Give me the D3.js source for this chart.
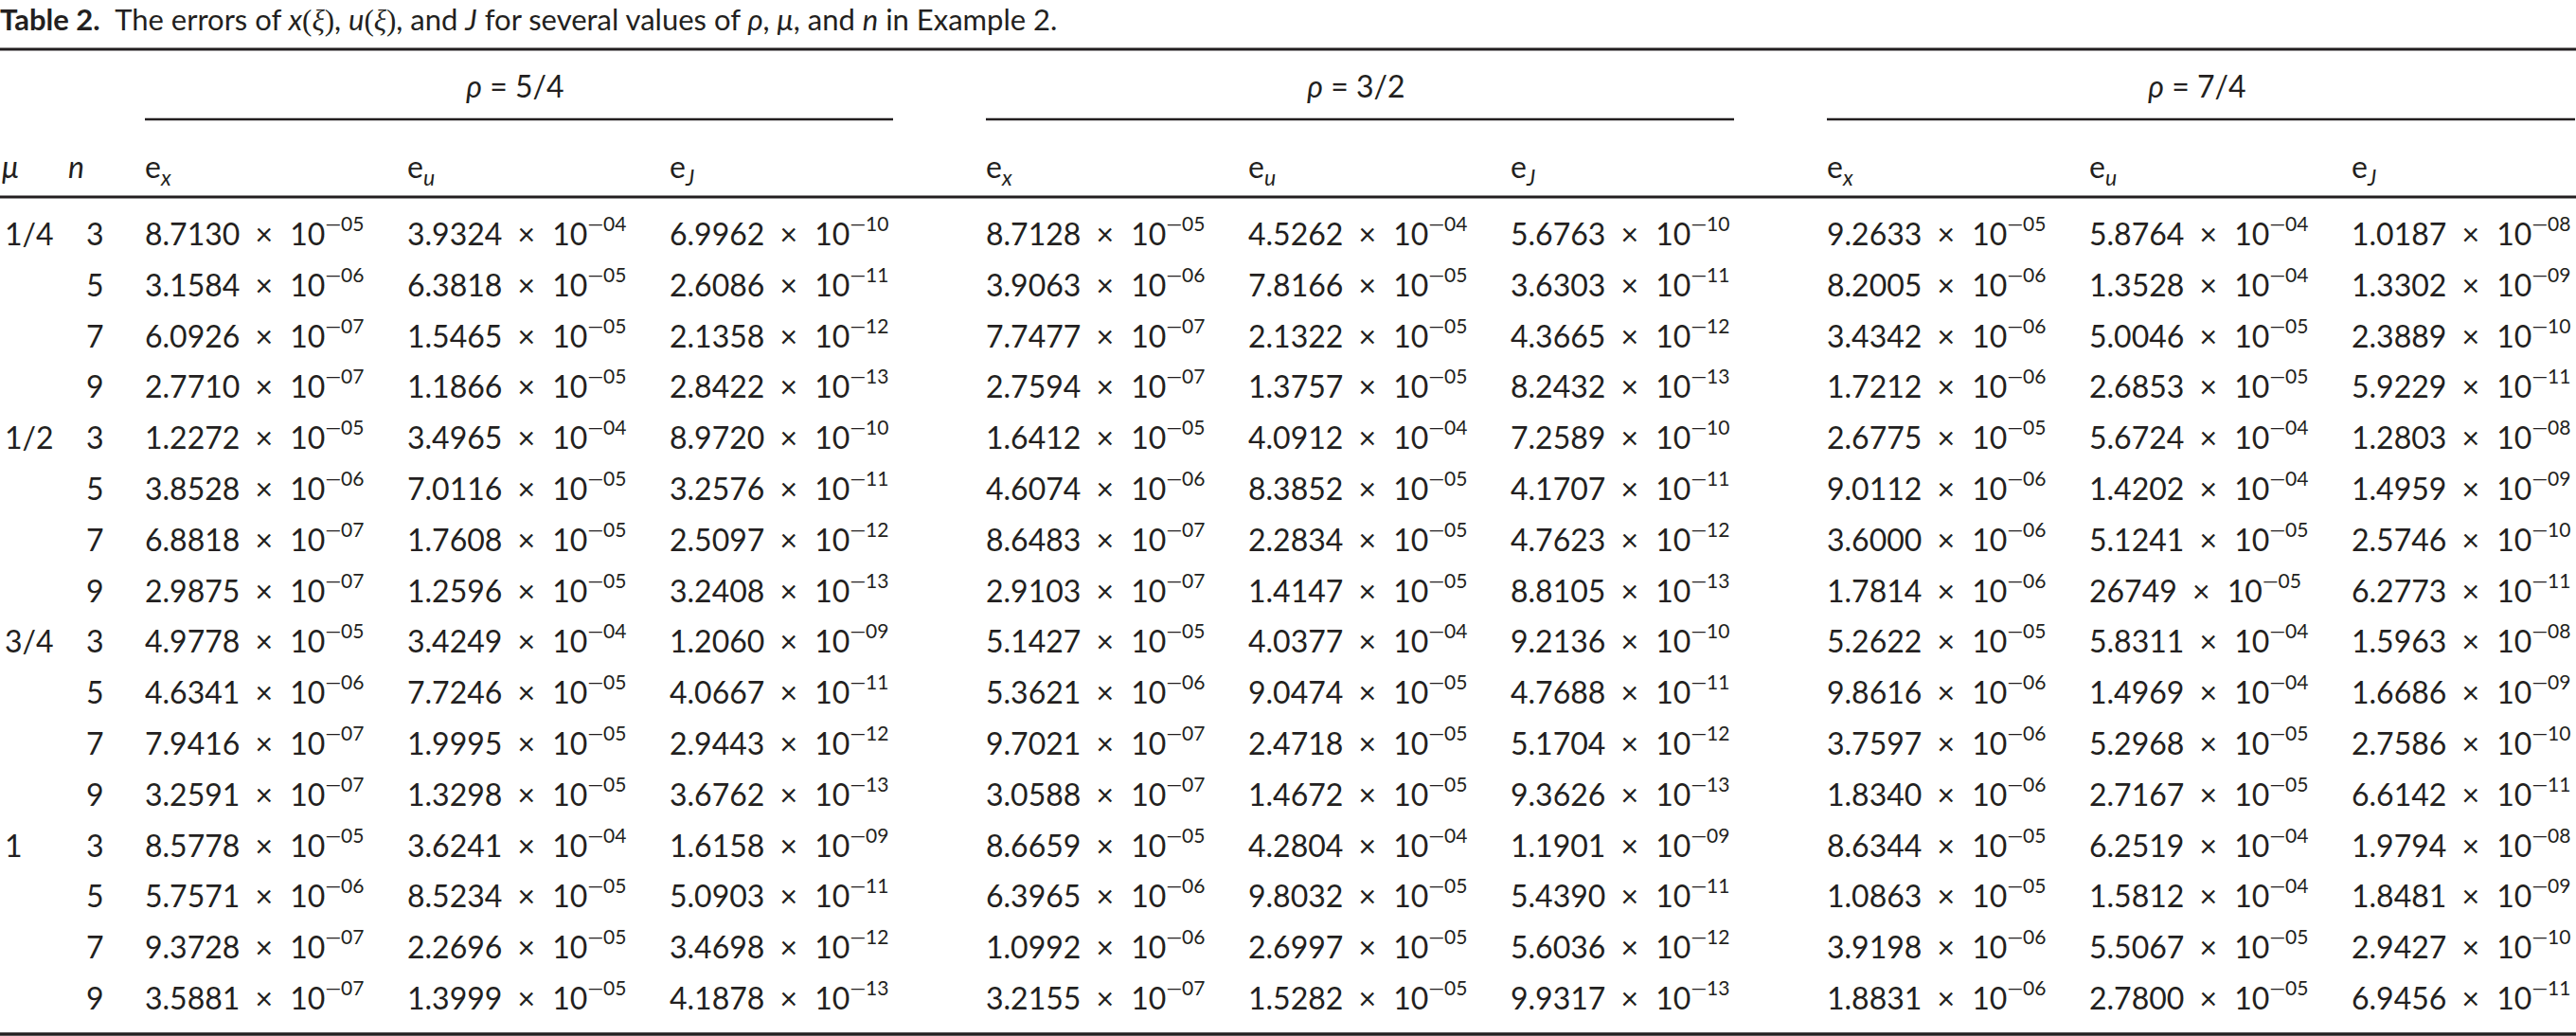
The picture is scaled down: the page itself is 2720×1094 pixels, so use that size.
<!DOCTYPE html>
<html>
<head>
<meta charset="utf-8">
<script src="https://cdn.jsdelivr.net/npm/d3@7"></script>
<style>
  html, body { margin: 0; padding: 0; background: #fff; }
  text { font-family: Lato, "Open Sans", sans-serif; fill: #231f20; }
</style>
</head>
<body>
<div id="table"></div>
<script>
// table contents
const rhoLabels = ['5/4', '3/2', '7/4'];
const muLabels = ['1/4', '1/2', '3/4', '1'];
const nValues = [3, 5, 7, 9];
const colNames = ['x', 'u', 'J'];

// errors for rho = 5/4 (16 rows: mu x n)
const rho1_ex = ['8.7130e-05', '3.1584e-06', '6.0926e-07', '2.7710e-07', '1.2272e-05', '3.8528e-06', '6.8818e-07', '2.9875e-07',
                 '4.9778e-05', '4.6341e-06', '7.9416e-07', '3.2591e-07', '8.5778e-05', '5.7571e-06', '9.3728e-07', '3.5881e-07'];
const rho1_eu = ['3.9324e-04', '6.3818e-05', '1.5465e-05', '1.1866e-05', '3.4965e-04', '7.0116e-05', '1.7608e-05', '1.2596e-05',
                 '3.4249e-04', '7.7246e-05', '1.9995e-05', '1.3298e-05', '3.6241e-04', '8.5234e-05', '2.2696e-05', '1.3999e-05'];
const rho1_eJ = ['6.9962e-10', '2.6086e-11', '2.1358e-12', '2.8422e-13', '8.9720e-10', '3.2576e-11', '2.5097e-12', '3.2408e-13',
                 '1.2060e-09', '4.0667e-11', '2.9443e-12', '3.6762e-13', '1.6158e-09', '5.0903e-11', '3.4698e-12', '4.1878e-13'];

// rho = 3/2
const rho2_ex = ['8.7128e-05', '3.9063e-06', '7.7477e-07', '2.7594e-07', '1.6412e-05', '4.6074e-06', '8.6483e-07', '2.9103e-07',
                 '5.1427e-05', '5.3621e-06', '9.7021e-07', '3.0588e-07', '8.6659e-05', '6.3965e-06', '1.0992e-06', '3.2155e-07'];
const rho2_eu = ['4.5262e-04', '7.8166e-05', '2.1322e-05', '1.3757e-05', '4.0912e-04', '8.3852e-05', '2.2834e-05', '1.4147e-05',
                 '4.0377e-04', '9.0474e-05', '2.4718e-05', '1.4672e-05', '4.2804e-04', '9.8032e-05', '2.6997e-05', '1.5282e-05'];
const rho2_eJ = ['5.6763e-10', '3.6303e-11', '4.3665e-12', '8.2432e-13', '7.2589e-10', '4.1707e-11', '4.7623e-12', '8.8105e-13',
                 '9.2136e-10', '4.7688e-11', '5.1704e-12', '9.3626e-13', '1.1901e-09', '5.4390e-11', '5.6036e-12', '9.9317e-13'];

// rho = 7/4 (the source prints "26749" without its decimal point)
const rho3_ex = ['9.2633e-05', '8.2005e-06', '3.4342e-06', '1.7212e-06', '2.6775e-05', '9.0112e-06', '3.6000e-06', '1.7814e-06',
                 '5.2622e-05', '9.8616e-06', '3.7597e-06', '1.8340e-06', '8.6344e-05', '1.0863e-05', '3.9198e-06', '1.8831e-06'];
const rho3_eu = ['5.8764e-04', '1.3528e-04', '5.0046e-05', '2.6853e-05', '5.6724e-04', '1.4202e-04', '5.1241e-05', '26749e-05',
                 '5.8311e-04', '1.4969e-04', '5.2968e-05', '2.7167e-05', '6.2519e-04', '1.5812e-04', '5.5067e-05', '2.7800e-05'];
const rho3_eJ = ['1.0187e-08', '1.3302e-09', '2.3889e-10', '5.9229e-11', '1.2803e-08', '1.4959e-09', '2.5746e-10', '6.2773e-11',
                 '1.5963e-08', '1.6686e-09', '2.7586e-10', '6.6142e-11', '1.9794e-08', '1.8481e-09', '2.9427e-10', '6.9456e-11'];

const groups = [
  [rho1_ex, rho1_eu, rho1_eJ],
  [rho2_ex, rho2_eu, rho2_eJ],
  [rho3_ex, rho3_eu, rho3_eJ]
];

const width = 2720;
const height = 1094;
const ink = '#231f20';
const fs = 32;

const svg = d3.select('#table')
  .append('svg')
  .attr('width', width)
  .attr('height', height);

// row index -> baseline
const rows = d3.range(muLabels.length * nValues.length);
const y = d3.scalePoint()
  .domain(rows)
  .range([259, 1066]);

// group and column positions
const xGroup = d3.scaleLinear().domain([0, 1]).range([153, 1041]);
const xCol = d3.scaleLinear().domain([0, 1]).range([0, 277]);
const groupRule = 790;

// title
const title = svg.append('text')
  .attr('x', 0)
  .attr('y', 32)
  .style('font-size', '31px');
const titleParts = [
  ['Table 2.', 'b'], ['\u2002The errors of ', ''], ['x', 'i'], ['(', 's'], ['ξ', 'si'], [')', 's'],
  [', ', ''], ['u', 'i'], ['(', 's'], ['ξ', 'si'], [')', 's'], [', and ', ''], ['J', 'i'],
  [' for several values of ', ''], ['ρ', 'i'], [', ', ''], ['μ', 'i'], [', and ', ''], ['n', 'i'],
  [' in Example 2.', '']
];
title.selectAll('tspan')
  .data(titleParts)
  .join('tspan')
  .text(d => d[0])
  .style('font-weight', d => d[1] === 'b' ? 'bold' : null)
  .style('font-style', d => d[1].includes('i') ? 'italic' : null)
  .style('font-family', d => d[1].includes('s') ? '"Liberation Serif", serif' : null);

// rules
const rule = (x1, x2, yy, w) => svg.append('line')
  .attr('x1', x1).attr('x2', x2)
  .attr('y1', yy).attr('y2', yy)
  .attr('stroke', ink)
  .attr('stroke-width', w);

rule(0, width, 52, 3);
rule(0, width, 208, 3);
rule(0, width, 1092, 3.5);
groups.forEach((g, gi) => {
  rule(xGroup(gi), Math.min(width, xGroup(gi) + groupRule), 126, 2.5);
});

// rho headers
svg.append('g')
  .selectAll('text')
  .data(rhoLabels)
  .join('text')
  .attr('x', (d, i) => xGroup(i) + groupRule / 2 - 4)
  .attr('y', 103)
  .attr('text-anchor', 'middle')
  .style('font-size', fs + 'px')
  .each(function (d) {
    const t = d3.select(this);
    t.append('tspan').style('font-style', 'italic').text('ρ');
    t.append('tspan').text(' = ' + d);
  });

// column headers
const head = svg.append('g').style('font-size', fs + 'px');
head.append('text').attr('x', 2).attr('y', 188).style('font-style', 'italic').text('μ');
head.append('text').attr('x', 72).attr('y', 188).style('font-style', 'italic').text('n');

const headCells = [];
groups.forEach((g, gi) => colNames.forEach((c, ci) => headCells.push({ gi, ci, c })));
head.selectAll('text.eh')
  .data(headCells)
  .join('text')
  .attr('class', 'eh')
  .attr('x', d => xGroup(d.gi) + xCol(d.ci))
  .attr('y', 188)
  .each(function (d) {
    const t = d3.select(this);
    t.append('tspan').text('e');
    t.append('tspan')
      .attr('dy', 8)
      .style('font-size', '23px')
      .style('font-style', 'italic')
      .text(d.c);
  });

// mu and n columns
const body = svg.append('g').style('font-size', fs + 'px');
body.selectAll('text.mu')
  .data(muLabels)
  .join('text')
  .attr('class', 'mu')
  .attr('x', 5)
  .attr('y', (d, i) => y(i * nValues.length))
  .text(d => d);

body.selectAll('text.n')
  .data(rows)
  .join('text')
  .attr('class', 'n')
  .attr('x', 91)
  .attr('y', r => y(r))
  .text(r => nValues[r % nValues.length]);

// value cells
const cells = [];
groups.forEach((g, gi) => g.forEach((col, ci) => col.forEach((v, r) => {
  const [m, e] = v.split('e-');
  cells.push({ gi, ci, r, m, e });
})));

body.selectAll('text.cell')
  .data(cells)
  .join('text')
  .attr('class', 'cell')
  .attr('x', d => xGroup(d.gi) + xCol(d.ci))
  .attr('y', d => y(d.r))
  .each(function (d) {
    const t = d3.select(this);
    t.append('tspan').text(d.m + ' ');
    t.append('tspan').attr('dx', 8).text('×');
    t.append('tspan').attr('dx', 10).text(' 10');
    t.append('tspan')
      .attr('dy', -15)
      .style('font-size', '21px')
      .text('—' + d.e);
  });
</script>
</body>
</html>
